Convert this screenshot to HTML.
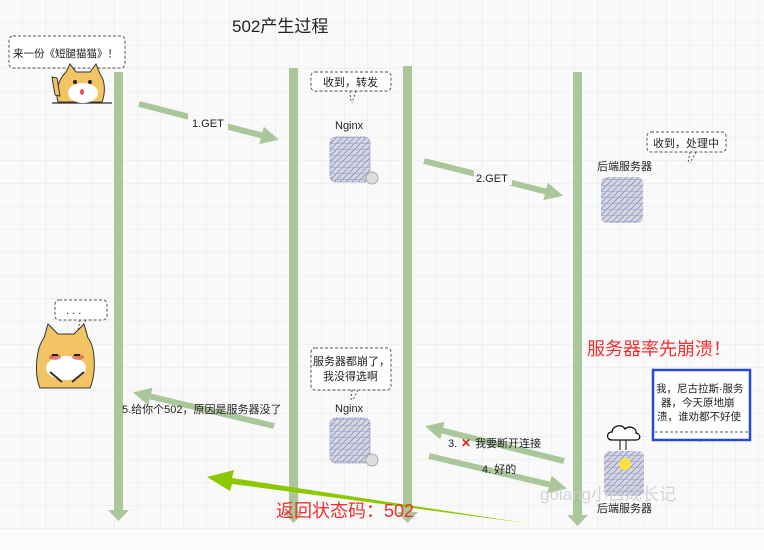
<!DOCTYPE html>
<html><head><meta charset="utf-8"><style>
html,body{margin:0;padding:0;background:#fafafa;}
svg{display:block}
text{font-family:"Liberation Sans","Noto Sans CJK SC",sans-serif;}
</style></head><body>
<svg width="764" height="550" viewBox="0 0 764 550" xmlns="http://www.w3.org/2000/svg">
<defs>
<pattern id="g" width="23" height="23" patternUnits="userSpaceOnUse"><path d="M23 0V23H0" fill="none" stroke="#e8e8e8" stroke-width="1"/></pattern>
<pattern id="srv" width="6" height="6" patternUnits="userSpaceOnUse"><rect width="6" height="6" fill="#d4d6e0"/><path d="M0 6L6 0" stroke="#8a92c0" stroke-width="0.8"/><path d="M0 5.5H6" stroke="#9aa0c8" stroke-width="0.6"/></pattern>
<marker id="ah" viewBox="0 0 10 10" refX="6" refY="5" markerWidth="3" markerHeight="3" orient="auto"><path d="M0 0L10 5L0 10z" fill="#a9c79a"/></marker>
</defs>
<rect width="764" height="550" fill="#f9f9f9"/>
<rect width="764" height="550" fill="url(#g)"/>
<rect x="0" y="530" width="764" height="20" fill="#fbfbfb" opacity="0.6"/>

<text x="232" y="32" font-size="17" fill="#222">502产生过程</text>

<g fill="#a9c79a">
<rect x="114" y="72" width="9" height="440"/><path d="M108 510h21l-10.5 11z"/>
<rect x="289" y="68" width="9" height="446"/><path d="M283 512h21l-10.5 11z"/>
<rect x="403" y="66" width="9" height="448"/><path d="M397 512h21l-10.5 11z"/>
<rect x="573" y="72" width="9" height="445"/><path d="M567 515h21l-10.5 11z"/>
</g>

<g stroke="#a9c79a" stroke-width="6" fill="none" marker-end="url(#ah)">
<path d="M139 104L272 138"/>
<path d="M424 161L556 194"/>
<path d="M274 426L140 394"/>
<path d="M564 461L432 428"/>
<path d="M429 456L560 487"/>
</g>
<rect x="188" y="114" width="40" height="16" fill="#f9f9f9"/>
<text x="192" y="127" font-size="11" fill="#222">1.GET</text>
<rect x="474" y="169" width="38" height="16" fill="#f9f9f9"/>
<text x="476" y="182" font-size="11" fill="#222">2.GET</text>
<text x="122" y="413" font-size="11" fill="#222">5.给你个502，原因是服务器没了</text>
<text x="448" y="447" font-size="11" fill="#222">3.</text>
<text x="461" y="447" font-size="12" fill="#e02020" font-weight="bold">✕</text>
<text x="475" y="447" font-size="11" fill="#222">我要断开连接</text>
<text x="482" y="473" font-size="11" fill="#222">4. 好的</text>

<path d="M525 523L232 478L234 470L207 477L230 491L232 484Z" fill="#8cc800"/>
<text x="276" y="517" font-size="18" fill="#f03030">返回状态码：502</text>
<text x="587" y="355" font-size="18" fill="#f03030">服务器率先崩溃！</text>

<g fill="#fff" stroke="#555" stroke-width="1" stroke-dasharray="3,2">
<rect x="9" y="36" width="116" height="32" rx="4"/>
<rect x="311" y="72" width="80" height="19" rx="4"/>
<rect x="647" y="132" width="79" height="20" rx="4"/>
<rect x="55" y="300" width="52" height="20" rx="4"/>
<rect x="311" y="348" width="80" height="42" rx="4"/>
</g>
<g stroke="#555" stroke-dasharray="2,2" fill="none">
<path d="M68 68L67 82M75 68L69 80"/><path d="M350 91L351 103M356 91L352 103"/>
<path d="M690 152L688 163M696 152L690 163"/><path d="M80 320L78 331M86 320L80 331"/>
<path d="M352 390L351 400M358 390L353 400"/><path d="M698 432L700 443M706 432L701 443"/>
</g>
<text x="13" y="57" font-size="10.5" fill="#222">来一份《短腿猫猫》！</text>
<text x="323" y="86" font-size="11" fill="#222">收到，转发</text>
<text x="653" y="147" font-size="11" fill="#222">收到，处理中</text>
<text x="66" y="314" font-size="11" fill="#222">. . .</text>
<text x="313" y="365" font-size="11" fill="#222">服务器都崩了，</text>
<text x="323" y="380" font-size="11" fill="#222">我没得选啊</text>

<rect x="653" y="370" width="97" height="70" fill="#fff" stroke="#2a48d0" stroke-width="2.5"/>
<path d="M655 432H748" stroke="#555" stroke-dasharray="3,2"/>
<text x="656" y="392" font-size="10.5" fill="#222">我，尼古拉斯·服务</text>
<text x="661" y="406" font-size="10.5" fill="#222">器，今天原地崩</text>
<text x="657" y="420" font-size="10.5" fill="#222">溃，谁劝都不好使</text>

<text x="335" y="129" font-size="11" fill="#222">Nginx</text>
<text x="335" y="412" font-size="11" fill="#222">Nginx</text>
<text x="597" y="170" font-size="11" fill="#222">后端服务器</text>
<text x="597" y="512" font-size="11" fill="#222">后端服务器</text>

<rect x="330" y="137" width="40" height="45" rx="6" fill="url(#srv)" stroke="#9aa0c8" stroke-dasharray="2,1"/>
<circle cx="372" cy="178" r="6" fill="#ddd" stroke="#aaa"/>
<rect x="330" y="418" width="40" height="45" rx="6" fill="url(#srv)" stroke="#9aa0c8" stroke-dasharray="2,1"/>
<circle cx="372" cy="460" r="6" fill="#ddd" stroke="#aaa"/>
<rect x="601" y="177" width="42" height="46" rx="6" fill="url(#srv)"/>
<rect x="604" y="451" width="40" height="45" rx="6" fill="url(#srv)"/>
<circle cx="625" cy="464" r="6" fill="#ffe040"/>
<path d="M612 440c-6 0-6-8 0-8c0-6 10-9 13-3c4-4 12-1 11 4c5 1 5 7 0 7z" fill="#fff" stroke="#111" stroke-width="1.3"/>
<path d="M620 440v10M626 440v10" stroke="#111"/>

<g>
<path d="M52 103h60" stroke="#333" stroke-width="1.2"/>
<path d="M58 102c-3-10 0-22 8-30l4-8 6 8h14l6-8 4 10c6 8 5 20 2 28z" fill="#f2c463" stroke="#333"/>
<ellipse cx="83" cy="93" rx="15" ry="10" fill="#fff"/>
<circle cx="75" cy="82" r="2" fill="#222"/><circle cx="90" cy="82" r="2" fill="#222"/>
<ellipse cx="82" cy="92" rx="2" ry="3" fill="#e05060"/>
<path d="M55 95l-3-18l5 1l3 18z" fill="#f2c463" stroke="#333"/>
</g>
<g>
<path d="M40 388c-6-14-4-40 4-50l4-14 10 10h16l10-10 4 14c8 10 8 36 2 50z" fill="#f2c463" stroke="#333"/>
<ellipse cx="66" cy="368" rx="20" ry="12" fill="#fff"/>
<ellipse cx="55" cy="357" rx="6" ry="3" fill="#d45a5a" opacity="0.7"/>
<ellipse cx="78" cy="357" rx="6" ry="3" fill="#d45a5a" opacity="0.7"/>
<path d="M52 355h6M74 355h6" stroke="#222" stroke-width="2"/>
<path d="M50 372l12 10M84 372l-12 10" stroke="#333" stroke-width="2"/>
</g>

<text x="540" y="500" font-size="17" fill="#ccc" opacity="0.8">golang小白成长记</text>
</svg>
</body></html>
